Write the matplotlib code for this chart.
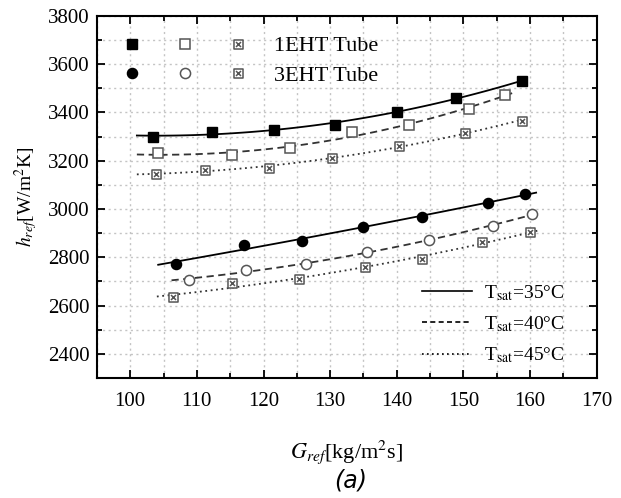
import matplotlib
matplotlib.use('Agg')
import matplotlib.pyplot as plt
import numpy as np
from matplotlib.lines import Line2D
from matplotlib.legend_handler import HandlerTuple
from matplotlib.ticker import MultipleLocator
from matplotlib.path import Path

plt.rcParams['font.family'] = 'Liberation Serif'
plt.rcParams['mathtext.fontset'] = 'stix'

# 1EHT tube
g_1_35 = [103.4, 112.2, 121.5, 130.8, 140.0, 148.9, 158.8]
h_1_35 = [3298, 3320, 3328, 3350, 3404, 3459, 3532]
g_1_40 = [104.1, 115.3, 123.9, 133.3, 141.8, 150.8, 156.3]
h_1_40 = [3231, 3224, 3252, 3320, 3349, 3414, 3473]
g_1_45 = [103.8, 111.2, 120.8, 130.3, 140.4, 150.2, 158.8]
h_1_45 = [3146, 3162, 3169, 3211, 3262, 3317, 3366]

# 3EHT tube
g_3_35 = [106.9, 117.0, 125.7, 134.9, 143.8, 153.7, 159.2]
h_3_35 = [2773, 2853, 2867, 2925, 2969, 3024, 3063]
g_3_40 = [108.8, 117.4, 126.3, 135.6, 144.8, 154.4, 160.3]
h_3_40 = [2707, 2748, 2773, 2820, 2870, 2930, 2980]
g_3_45 = [106.4, 115.2, 125.3, 135.2, 143.8, 152.8, 160.0]
h_3_45 = [2634, 2693, 2710, 2759, 2793, 2865, 2903]

# x-range of the fitted curves
fit_range = {
    '1_35': (101.0, 159.4), '1_40': (101.0, 157.3), '1_45': (101.0, 159.6),
    '3_35': (104.2, 160.9), '3_40': (106.2, 160.9), '3_45': (104.0, 161.4),
}

# square with a cross inside
box_x = Path([(-1, -1), (1, -1), (1, 1), (-1, 1), (-1, -1),
              (-0.55, -0.55), (0.55, 0.55), (-0.55, 0.55), (0.55, -0.55)],
             [Path.MOVETO, Path.LINETO, Path.LINETO, Path.LINETO, Path.CLOSEPOLY,
              Path.MOVETO, Path.LINETO, Path.MOVETO, Path.LINETO])

fig = plt.figure(figsize=(6.21, 4.98), dpi=100)
ax = fig.add_axes([0.156, 0.241, 0.805, 0.727])

lstyles = {'35': '-', '40': (0, (4, 2.5)), '45': (0, (1, 2))}
lcol = {'35': 'black', '40': '#333333', '45': '#333333'}

series = [
    ('1_35', g_1_35, h_1_35), ('1_40', g_1_40, h_1_40), ('1_45', g_1_45, h_1_45),
    ('3_35', g_3_35, h_3_35), ('3_40', g_3_40, h_3_40), ('3_45', g_3_45, h_3_45),
]
for key, g, h in series:
    t = key.split('_')[1]
    c = np.polyfit(g, h, 2)
    xs = np.linspace(*fit_range[key], 100)
    ax.plot(xs, np.polyval(c, xs), color=lcol[t], ls=lstyles[t], lw=1.3, zorder=2)

ms = 6.5
gray = '#555555'
sty_fs = dict(ls='none', marker='s', color='black', ms=ms)
sty_os = dict(ls='none', marker='s', mfc='white', mec=gray, mew=1.1, ms=ms)
sty_xs = dict(ls='none', marker=box_x, mfc='white', mec=gray, mew=1.1, ms=ms)
sty_fo = dict(ls='none', marker='o', color='black', ms=ms + 0.8)
sty_oo = dict(ls='none', marker='o', mfc='white', mec=gray, mew=1.1, ms=ms + 0.8)

ax.plot(g_1_35, h_1_35, zorder=3, **sty_fs)
ax.plot(g_1_40, h_1_40, zorder=3, **sty_os)
ax.plot(g_1_45, h_1_45, zorder=3, **sty_xs)
ax.plot(g_3_35, h_3_35, zorder=3, **sty_fo)
ax.plot(g_3_40, h_3_40, zorder=3, **sty_oo)
ax.plot(g_3_45, h_3_45, zorder=3, **sty_xs)

ax.set_xlim(95, 170)
ax.set_ylim(2300, 3800)
ax.xaxis.set_major_locator(MultipleLocator(10))
ax.xaxis.set_minor_locator(MultipleLocator(5))
ax.yaxis.set_major_locator(MultipleLocator(200))
ax.yaxis.set_minor_locator(MultipleLocator(100))
ax.tick_params(which='both', direction='in', top=True, right=True, labelsize=15, width=1.3)
ax.tick_params(which='major', length=6, pad=5)
ax.tick_params(axis='x', which='major', pad=10)
ax.tick_params(which='minor', length=3.5)
ax.grid(which='both', color='#c4c4c4', ls=(0, (1.5, 2.5)), lw=1.0)
ax.set_axisbelow(True)
for s in ax.spines.values():
    s.set_linewidth(1.5)

ax.set_xlabel(r'$G_{ref}$[kg/m$^2$s]', fontsize=16, labelpad=20)
ax.set_ylabel(r'$h_{ref}$[W/m$^2$K]', fontsize=14, labelpad=6)
fig.text(0.564, 0.035, '(a)', fontsize=17, family='DejaVu Sans', style='italic', ha='center', va='center')

# legend for tube types
h1 = (Line2D([], [], **sty_fs), Line2D([], [], **sty_os), Line2D([], [], **sty_xs))
h2 = (Line2D([], [], **sty_fo), Line2D([], [], **sty_oo), Line2D([], [], **sty_xs))
leg1 = ax.legend([h1, h2], ['1EHT Tube', '3EHT Tube'],
                 handler_map={tuple: HandlerTuple(ndivide=None, pad=0)},
                 loc='upper left', bbox_to_anchor=(0.018, 0.945), borderaxespad=0, borderpad=0,
                 frameon=False, fontsize=16, handlelength=7.15, handletextpad=0.4,
                 labelspacing=0.4)
ax.add_artist(leg1)

# legend for saturation temperature
l1 = Line2D([], [], color='black', lw=1.2, ls='-')
l2 = Line2D([], [], color='black', lw=1.2, ls=(0, (3, 2)))
l3 = Line2D([], [], color='black', lw=1.2, ls=(0, (1, 2)))
ax.legend([l1, l2, l3],
          [r'T$_{\rm sat}$=35°C', r'T$_{\rm sat}$=40°C', r'T$_{\rm sat}$=45°C'],
          loc='lower right', bbox_to_anchor=(0.935, 0.035), borderaxespad=0, borderpad=0,
          frameon=False, fontsize=14, handlelength=2.6, handletextpad=0.6, labelspacing=0.6)

fig.savefig('out.png', dpi=100)
